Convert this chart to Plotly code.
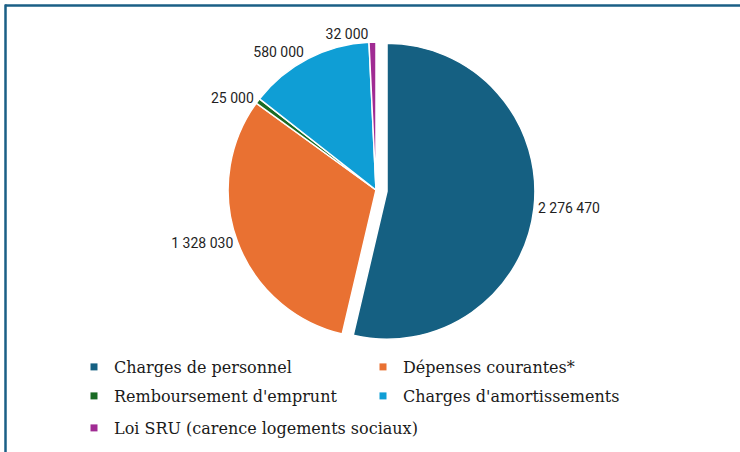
import plotly.graph_objects as go

categories = ["Charges de personnel", "Dépenses courantes*", "Remboursement d'emprunt",
              "Charges d'amortissements", "Loi SRU (carence logements sociaux)"]
values = [2276470, 1328030, 25000, 580000, 32000]
colors = ["#156082", "#E97132", "#196B24", "#0F9ED5", "#A02B93"]
pulls = [0.075, 0, 0, 0, 0]
legend_groups = ["legend", "legend", "legend2", "legend2", "legend3"]

W, H = 740, 452

fig = go.Figure()
fig.add_trace(go.Pie(
    labels=categories, values=values, sort=False, direction="clockwise", rotation=0,
    marker=dict(colors=colors, line=dict(color="white", width=1.5)),
    pull=pulls, textposition="outside", texttemplate="%{value:,}",
    outsidetextfont=dict(family="Roboto, Arial, sans-serif", size=14, color="#1f1f1f"),
    showlegend=False, hoverinfo="label+value+percent",
    domain=dict(x=[217 / W, 535 / W], y=[1 - 349 / H, 1 - 31 / H]),
))

for cat, col, lg in zip(categories, colors, legend_groups):
    fig.add_trace(go.Scatter(
        x=[None], y=[None], mode="markers", name=cat, legend=lg,
        marker=dict(symbol="square", size=7, color=col), hoverinfo="skip",
    ))

leg_common = dict(
    orientation="h", entrywidthmode="pixels",
    font=dict(family="DejaVu Serif, serif", size=16, color="#1a1a1a"),
    bgcolor="rgba(0,0,0,0)", xanchor="left", yanchor="middle", x=74 / W,
    itemwidth=30,
)

fig.update_layout(
    width=W, height=H, margin=dict(l=0, r=0, t=0, b=0),
    paper_bgcolor="white", plot_bgcolor="white",
    separators=", ",
    xaxis=dict(visible=False), yaxis=dict(visible=False),
    legend=dict(**leg_common, entrywidth=244, y=1 - 367 / H),
    legend2=dict(**leg_common, entrywidth=244, y=1 - 396 / H),
    legend3=dict(**leg_common, entrywidth=0, y=1 - 428 / H),
    shapes=[
        dict(type="line", xref="paper", yref="paper", x0=5 / W, x1=1.02, y0=1 - 5.5 / H, y1=1 - 5.5 / H,
             line=dict(color="#1a5f86", width=2.5)),
        dict(type="line", xref="paper", yref="paper", x0=5.5 / W, x1=5.5 / W, y0=1 - 4.5 / H, y1=-0.02,
             line=dict(color="#1a5f86", width=2.5)),
    ],
)

fig.write_html("out.html", config={"displayModeBar": False},
               post_script="document.body.style.margin='0';")
